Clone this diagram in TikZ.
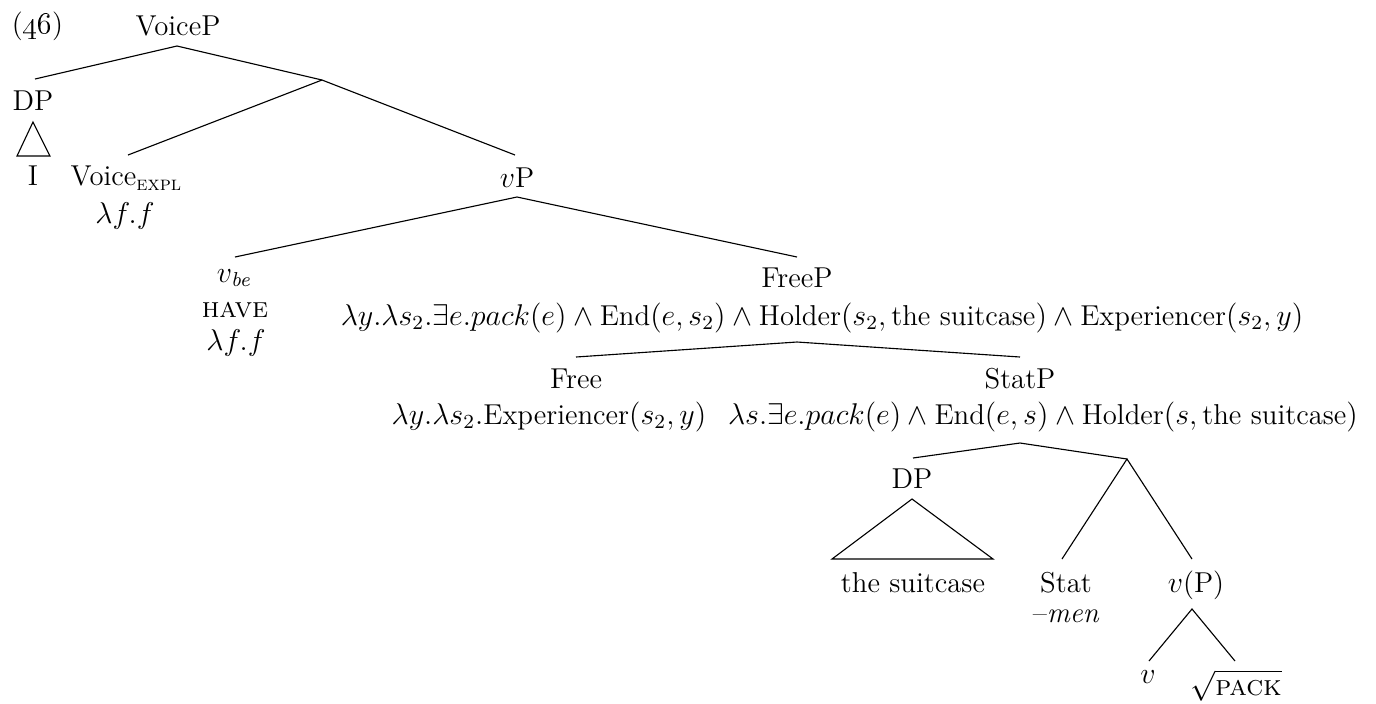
\documentclass[tikz,border=0pt]{standalone}
\usepackage{amsmath}
\newcommand\treefs{\fontsize{11.5}{13.5}\selectfont}
\begin{document}
\begin{tikzpicture}[x=0.4pt,y={(0pt,-0.4pt)},
  lab/.style={anchor=base,inner sep=0pt,font=\treefs},
  branch/.style={draw=black,line width=0.45pt},
  tri/.style={draw=black,line width=0.45pt,line join=miter}]
\useasboundingbox (0,0) rectangle (1376,703);
% labels
\node[lab] (ex) at (37.5,33) {(\oldstylenums{46})};
\node[lab] (voicep) at (178,35) {VoiceP};
\node[lab] (dp1) at (33,110) {DP};
\node[lab] (i) at (33,185) {I};
\node[lab] (voice) at (126,185) {Voice\raisebox{-0.45ex}{\footnotesize\textsc{expl}}};
\node[lab] (lf1) at (125,223) {$\lambda f.f$};
\node[lab] (vp) at (517,187) {$v$P};
\node[lab] (vbe) at (234,282) {$v_{\textit{be}}$};
\node[lab] (have) at (235,317) {\textsc{have}};
\node[lab] (lf2) at (236,350) {$\lambda f.f$};
\node[lab] (freep) at (797,287) {FreeP};
\node[lab] (freepf) at (822,325) {$\lambda y.\lambda s_2.\exists e.pack(e)\wedge\text{End}(e,s_2)\wedge\text{Holder}(s_2,\text{the suitcase})\wedge\text{Experiencer}(s_2,y)$};
\node[lab] (free) at (576,388) {Free};
\node[lab] (freef) at (549,424) {$\lambda y.\lambda s_2.\text{Experiencer}(s_2,y)$};
\node[lab] (statp) at (1020,388) {StatP};
\node[lab] (statpf) at (1043,424) {$\lambda s.\exists e.pack(e)\wedge\text{End}(e,s)\wedge\text{Holder}(s,\text{the suitcase})$};
\node[lab] (dp2) at (912,488) {DP};
\node[lab] (suit) at (913,592) {the suitcase};
\node[lab] (stat) at (1066,592) {Stat};
\node[lab] (men) at (1066,622) {--\textit{men}};
\node[lab] (vpp) at (1196,592) {$v$(P)};
\node[lab] (v) at (1148,683) {$v$};
\node[lab] (root) at (1236,695) {$\sqrt{\text{\textsc{pack}}}$};
% attachment points
\coordinate (voicep-b) at (177,46);
\coordinate (dp1-t) at (35,79);
\coordinate (j1) at (322,80);
\coordinate (voice-t) at (128,155);
\coordinate (vp-t) at (515,155);
\coordinate (vp-b) at (517,197);
\coordinate (vbe-t) at (235,257);
\coordinate (freep-t) at (797,257);
\coordinate (freep-b) at (797,342);
\coordinate (free-t) at (576,357);
\coordinate (statp-t) at (1020,357);
\coordinate (statp-b) at (1020,443);
\coordinate (dp2-t) at (913,458);
\coordinate (j2) at (1127,459);
\coordinate (stat-t) at (1062,559);
\coordinate (vpp-t) at (1192,559);
\coordinate (vpp-b) at (1192,609);
\coordinate (v-t) at (1149,661);
\coordinate (root-t) at (1235,661);
% branches
\draw[branch] (dp1-t) -- (voicep-b) -- (j1);
\draw[branch] (voice-t) -- (j1) -- (vp-t);
\draw[branch] (vbe-t) -- (vp-b) -- (freep-t);
\draw[branch] (free-t) -- (freep-b) -- (statp-t);
\draw[branch] (dp2-t) -- (statp-b) -- (j2);
\draw[branch] (stat-t) -- (j2) -- (vpp-t);
\draw[branch] (v-t) -- (vpp-b) -- (root-t);
% triangles
\draw[tri] (33,122) -- (17,156) -- (50,156) -- cycle;
\draw[tri] (912,499) -- (832,559) -- (993,559) -- cycle;
\end{tikzpicture}
\end{document}
